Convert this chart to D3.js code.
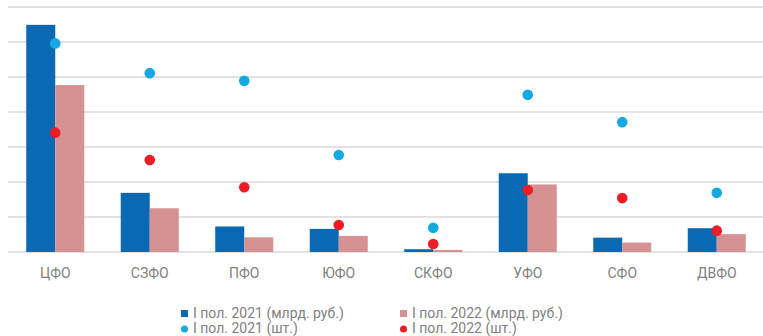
<!DOCTYPE html>
<html><head><meta charset="utf-8">
<script src="https://cdn.jsdelivr.net/npm/d3@7"></script>
<style>body{margin:0;background:#fff;}svg{display:block;font-family:Roboto,"Noto Sans",sans-serif;}</style>
</head><body>
<svg id="c" width="763" height="336"></svg>
<script>
const categories = ["ЦФО","СЗФО","ПФО","ЮФО","СКФО","УФО","СФО","ДВФО"];
const bars2021 = [64.9, 16.9, 7.3, 6.6, 0.8, 22.5, 4.1, 6.8];
const bars2022 = [47.7, 12.5, 4.2, 4.6, 0.6, 19.3, 2.7, 5.1];
const dots2021 = [596, 511, 489, 277, 69, 449, 371, 169];
const dots2022 = [341, 263, 185, 77, 23, 177, 154, 61];
const seriesNames = ["I пол. 2021 (млрд. руб.)","I пол. 2022 (млрд. руб.)","I пол. 2021 (шт.)","I пол. 2022 (шт.)"];
const colors = ["#0b69b4","#d69293","#15a9e1","#ee1c25"];

const svg = d3.select("#c");
const x = d3.scaleBand().domain(categories).range([8, 764]).paddingInner(0.386).paddingOuter(0.193);
const yBar = d3.scaleLinear().domain([0, 70]).range([252, 7]);
const yDot = d3.scaleLinear().domain([0, 700]).range([252, 7]);

// grid
svg.append("g").selectAll("line").data(yBar.ticks(7)).join("line")
  .attr("x1", 8).attr("x2", 763)
  .attr("y1", d => yBar(d)).attr("y2", d => yBar(d))
  .attr("stroke", "#d9d9d9").attr("stroke-width", 1.5);

const bw = x.bandwidth() / 2;
svg.append("g").selectAll("rect").data(categories).join("rect")
  .attr("x", d => x(d)).attr("width", bw)
  .attr("y", (d, i) => yBar(bars2021[i])).attr("height", (d, i) => yBar(0) - yBar(bars2021[i]))
  .attr("fill", colors[0]);
svg.append("g").selectAll("rect").data(categories).join("rect")
  .attr("x", d => x(d) + bw).attr("width", bw)
  .attr("y", (d, i) => yBar(bars2022[i])).attr("height", (d, i) => yBar(0) - yBar(bars2022[i]))
  .attr("fill", colors[1]);

svg.append("g").selectAll("circle").data(categories).join("circle")
  .attr("cx", d => x(d) + bw).attr("cy", (d, i) => yDot(dots2021[i])).attr("r", 5.3)
  .attr("fill", colors[2]);
svg.append("g").selectAll("circle").data(categories).join("circle")
  .attr("cx", d => x(d) + bw).attr("cy", (d, i) => yDot(dots2022[i])).attr("r", 5.3)
  .attr("fill", colors[3]);

// x axis labels
const xAxis = d3.axisBottom(x).tickSize(0).tickPadding(0);
const gx = svg.append("g").attr("transform", "translate(0,265)").call(xAxis);
gx.select(".domain").remove();
gx.selectAll("text").attr("fill", "#808080").style("font-size", "14px")
  .style("font-family", "Roboto, sans-serif").attr("dy", "0.71em").attr("y", 3);

// legend
const legItems = [
  {x: 181, y: 318, type: "rect", c: colors[0], t: seriesNames[0]},
  {x: 400, y: 318, type: "rect", c: colors[1], t: seriesNames[1]},
  {x: 181, y: 333, type: "circle", c: colors[2], t: seriesNames[2]},
  {x: 400, y: 333, type: "circle", c: colors[3], t: seriesNames[3]}
];
const lg = svg.append("g").selectAll("g").data(legItems).join("g");
lg.filter(d => d.type === "rect").append("rect")
  .attr("x", d => d.x).attr("y", d => d.y - 8).attr("width", 7).attr("height", 7).attr("fill", d => d.c);
lg.filter(d => d.type === "circle").append("circle")
  .attr("cx", d => d.x + 3.5).attr("cy", d => d.y - 4).attr("r", 3.5).attr("fill", d => d.c);
lg.append("text").attr("x", d => d.x + 12).attr("y", d => d.y)
  .attr("fill", "#808080").style("font-size", "14px").text(d => d.t);
</script>
</body></html>
